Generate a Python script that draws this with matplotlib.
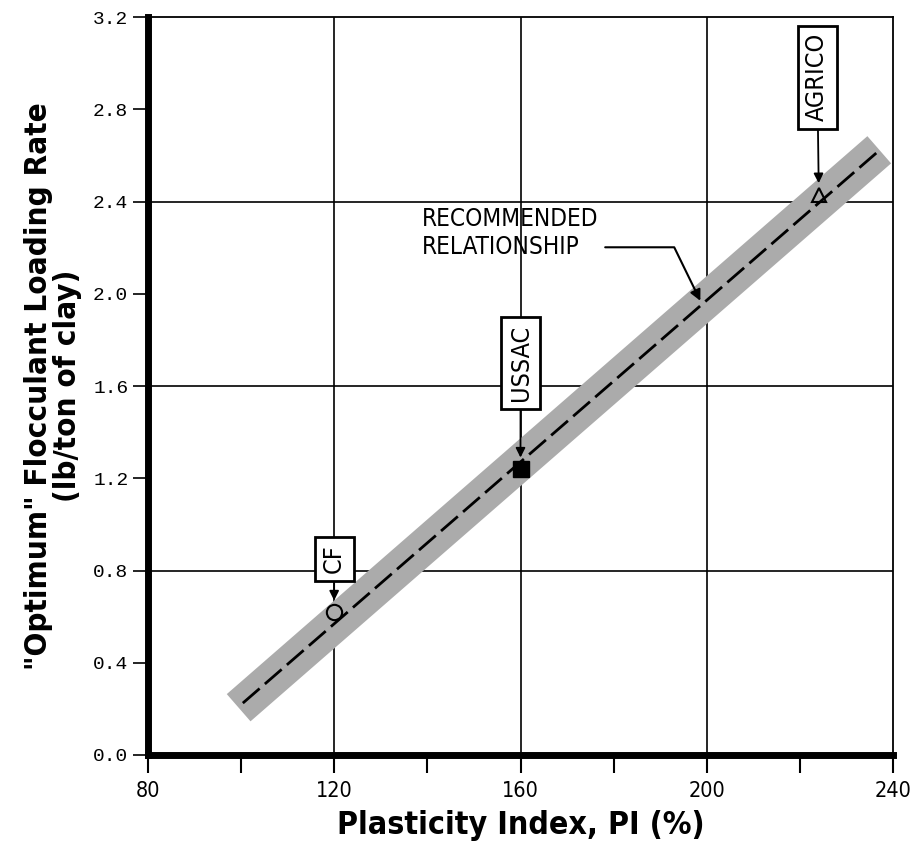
import matplotlib.pyplot as plt

# recommended relationship (end points of the dashed line)
pi_line = [100.4, 236.6]
rate_line = [0.225, 2.615]
# shaded band around it
pi_band = [99.5, 237.0]
rate_band = [0.205, 2.625]

# observed points
sites = ['CF', 'USSAC', 'AGRICO']
pi_pts = [120, 160, 224]
rate_pts = [0.62, 1.24, 2.43]
label_pos = [(120, 0.85), (160, 1.70), (223.7, 2.94)]

xticks = [80, 120, 160, 200, 240]
xminor = [100, 140, 180, 220]
yticks = [0.0, 0.4, 0.8, 1.2, 1.6, 2.0, 2.4, 2.8, 3.2]
xgrid = [120, 160, 200]
ygrid = [0.8, 1.6, 2.4]

cond = dict(family='DejaVu Sans', fontstretch='condensed')

fig = plt.figure(figsize=(9.18, 8.48), dpi=100)
ax = fig.add_axes([0.161, 0.1097, 0.812, 0.870])
ax.set_xlim(80, 240)
ax.set_ylim(0, 3.2)

for x in xgrid:
    ax.axvline(x, color='black', lw=1.2, zorder=1)
for y in ygrid:
    ax.axhline(y, color='black', lw=1.2, zorder=1)

ax.plot(pi_band, rate_band, color='#ababab', lw=26, solid_capstyle='butt', zorder=2)
ax.plot(pi_line, rate_line, color='black', lw=2, ls=(0, (8, 2.5)), zorder=3)

ax.plot(pi_pts[0], rate_pts[0], 'o', ms=11, mfc='none', mec='black', mew=1.5, zorder=4)
ax.plot(pi_pts[1], rate_pts[1], 's', ms=11, color='black', zorder=4)
ax.plot(pi_pts[2], rate_pts[2], '^', ms=10, mfc='none', mec='black', mew=1.5, zorder=4)

for name, x, y, pos in zip(sites, pi_pts, rate_pts, label_pos):
    ax.annotate(name, xy=(x, y + 0.05), xytext=pos, rotation=90,
                ha='center', va='center', fontsize=18, **cond,
                bbox=dict(boxstyle='square,pad=0.3', fc='white', ec='black', lw=2),
                arrowprops=dict(arrowstyle='-|>', color='black', lw=1.3,
                                mutation_scale=14, shrinkA=0, shrinkB=0),
                zorder=5)

ax.annotate('RECOMMENDED\nRELATIONSHIP', xy=(198.6, 1.97), xytext=(138.8, 2.265),
            ha='left', va='center', fontsize=17.5, **cond, linespacing=1.2,
            arrowprops=dict(arrowstyle='-|>', color='black', lw=1.5,
                            mutation_scale=16, shrinkA=3, shrinkB=0,
                            relpos=(1.0, 0.22),
                            connectionstyle='angle,angleA=0,angleB=116,rad=0'),
            zorder=5)

ax.set_xticks(xticks)
ax.set_xticks(xminor, minor=True)
ax.set_yticks(yticks)
ax.set_xticklabels([str(v) for v in xticks], fontsize=15.5, **cond)
ax.set_yticklabels(['%.1f' % v for v in yticks], fontsize=14, family='Liberation Mono')
ax.tick_params(axis='x', which='both', direction='out', length=13, width=1.5, pad=6)
ax.tick_params(axis='y', direction='out', length=11, width=1.2, pad=3)

for side in ['left', 'bottom']:
    ax.spines[side].set_linewidth(5)
for side in ['top', 'right']:
    ax.spines[side].set_linewidth(1.3)

ax.set_xlabel('Plasticity Index, PI (%)', fontsize=23, fontweight='bold',
              labelpad=6, **cond)
ax.set_ylabel('"Optimum" Flocculant Loading Rate\n(lb/ton of clay)', fontsize=22.5,
              fontweight='bold', linespacing=1.0, labelpad=8, **cond)

fig.savefig('out.png', dpi=100)
